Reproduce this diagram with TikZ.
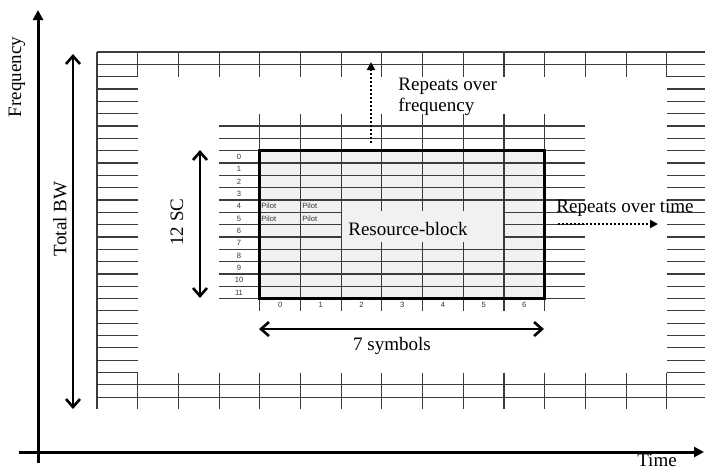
\documentclass[tikz,border=0pt]{standalone}
\usepackage{fontspec}
\setmainfont{Liberation Serif}
\newfontfamily\lsans{Liberation Sans}
\usetikzlibrary{arrows.meta}
\definecolor{blockgray}{HTML}{F1F1F1}
\definecolor{gridc}{HTML}{3C3C3C}
\begin{document}
\begin{tikzpicture}[x=0.5pt,y=-0.5pt,
  gridline/.style={draw=gridc,line width=0.55pt},
  lbl/.style={font=\fontsize{9.5}{10.3}\selectfont, inner sep=0},
  small/.style={font=\lsans\fontsize{3.8}{4.5}\selectfont, text=black!80, inner sep=0},
  axis/.style={line width=1.5pt, -{Triangle[length=5pt,width=5pt]}},
  span/.style={line width=1.3pt, {Straight Barb[length=4pt,width=7pt,line width=1.3pt]}-{Straight Barb[length=4pt,width=7pt,line width=1.3pt]}},
  rep/.style={line width=1.3pt, dash pattern=on 1pt off 1pt, -{Triangle[length=4pt,width=4pt]}}
]
\useasboundingbox (0,0) rectangle (705,468);
% block fill
\fill[blockgray] ({97+40.7*4},{52+12.33*8}) rectangle ({97+40.7*11},{52+12.33*20});
% outer top / bottom bands
\foreach \r in {0,1,27,28}
  \draw[gridline] (97,{52+12.33*\r}) -- (705,{52+12.33*\r});
\foreach \c in {1,...,14}{
  \draw[gridline] ({97+40.7*\c},52) -- ({97+40.7*\c},{52+12.33*2});
  \draw[gridline] ({97+40.7*\c},{52+12.33*26}) -- ({97+40.7*\c},409);
}
\draw[gridline] (97,52) -- (97,409);
% left and right columns
\foreach \r in {2,...,26}{
  \draw[gridline] (97,{52+12.33*\r}) -- ({97+40.7},{52+12.33*\r});
  \draw[gridline] ({97+40.7*14},{52+12.33*\r}) -- (705,{52+12.33*\r});
}
% inner grid
\foreach \r in {6,...,20}
  \draw[gridline] ({97+40.7*3},{52+12.33*\r}) -- ({97+40.7*12},{52+12.33*\r});
\foreach \c in {4,...,11}
  \draw[gridline] ({97+40.7*\c},{52+12.33*5}) -- ({97+40.7*\c},{52+12.33*21});
% resource block label background
\fill[blockgray] (342,211) rectangle (503,242);
\node[lbl] (rb) at (408,229) {Resource-block};
% block border
\draw[line width=1.5pt] ({97+40.7*4},{52+12.33*8}) rectangle ({97+40.7*11},{52+12.33*20});
% row and column numbers
\foreach \i in {0,...,11}
  \node[small] (r\i) at (239,{52+12.33*(8+\i)+6.2}) {\i};
\foreach \j in {0,...,6}
  \node[small] (c\j) at ({97+40.7*(4+\j)+20.35},305) {\j};
% pilots
\node[small, anchor=west] (p1) at (261,{52+12.33*12+6.2}) {Pilot};
\node[small, anchor=west] (p2) at (302,{52+12.33*12+6.2}) {Pilot};
\node[small, anchor=west] (p3) at (261,{52+12.33*13+6.2}) {Pilot};
\node[small, anchor=west] (p4) at (302,{52+12.33*13+6.2}) {Pilot};
% axes
\coordinate (fa) at (38,463);
\coordinate (fb) at (38,10);
\draw[axis] (fa) -- (fb);
\coordinate (ta) at (19,452);
\coordinate (tb) at (704,452);
\draw[axis] (ta) -- (tb);
% spans
\coordinate (bw1) at (73,409);
\coordinate (bw2) at (73,54);
\draw[span] (bw1) -- (bw2);
\coordinate (sc1) at (200,298);
\coordinate (sc2) at (200,150);
\draw[span] (sc1) -- (sc2);
\coordinate (sy1) at (259,329);
\coordinate (sy2) at (544,329);
\draw[span] (sy1) -- (sy2);
% repeats arrows
\coordinate (rf1) at (371,143);
\coordinate (rf2) at (371,62);
\draw[rep] (rf1) -- (rf2);
\coordinate (rt1) at (558,224);
\coordinate (rt2) at (658,224);
\draw[rep] (rt1) -- (rt2);
% texts
\node[lbl, rotate=90] (freq) at (17,77) {Frequency};
\node[lbl, rotate=90] (tbw) at (60,219) {Total BW};
\node[lbl, rotate=90] (sc) at (177,222) {12 SC};
\node[lbl] (sym) at (392,346) {7 symbols};
\node[lbl, anchor=north west, align=left] (rfq) at (398,78) {Repeats over\\frequency};
\node[lbl] (rtm) at (625,208) {Repeats over time};
\node[lbl, anchor=base] (time) at (657,466.5) {Time};
\end{tikzpicture}
\end{document}
